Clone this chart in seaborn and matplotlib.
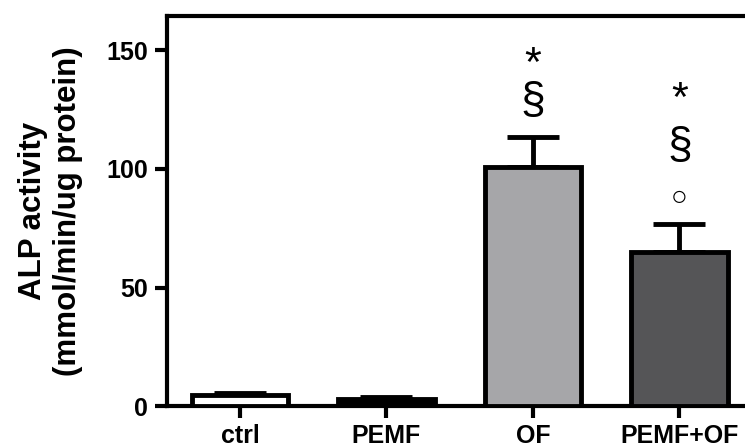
import numpy as np
import pandas as pd
import matplotlib
matplotlib.use("Agg")
import matplotlib.pyplot as plt
import seaborn as sns

# ---- data ----
categories = ["ctrl", "PEMF", "OF", "PEMF+OF"]
alp_mean = [4.9, 3.1, 100.6, 64.8]
alp_sem = [0.9, 1.0, 13.0, 11.9]
bar_colors = ["#ffffff", "#000000", "#a6a5aa", "#555557"]

# significance marks: (category, symbol, y value of symbol centre)
star_cats = ["OF", "PEMF+OF"]
star_y = [147.3, 132.6]
sect_cats = ["OF", "PEMF+OF"]
sect_y = [128.3, 109.4]
circ_cats = ["PEMF+OF"]
circ_y = [87.9]

y_ticks = [0, 50, 100, 150]
y_label = "ALP activity\n(mmol/min/ug protein)"

# ---- style ----
sns.set_theme(style="ticks")
plt.rcParams["font.family"] = ["Liberation Sans", "DejaVu Sans"]
plt.rcParams["text.color"] = "black"
plt.rcParams["axes.labelcolor"] = "black"
plt.rcParams["xtick.color"] = "black"
plt.rcParams["ytick.color"] = "black"

fig = plt.figure(figsize=(7.45, 4.44), dpi=100)
ax = fig.add_axes([0.2238, 0.0849, 0.7866, 0.879])

df = pd.DataFrame({"group": categories, "alp": alp_mean})
sns.barplot(data=df, x="group", y="alp", hue="group", palette=bar_colors,
            order=categories, hue_order=categories, legend=False,
            width=0.66, edgecolor="black", linewidth=3.5, errorbar=None,
            ax=ax, zorder=3)

pos = np.arange(len(categories))
ax.errorbar(pos, alp_mean, yerr=[np.zeros(len(alp_sem)), alp_sem], fmt="none",
            ecolor="black", elinewidth=3.5, capsize=19, capthick=3.5, zorder=2)

idx = {c: i for i, c in enumerate(categories)}
for c, y in zip(star_cats, star_y):
    ax.annotate("*", xy=(idx[c], y), xytext=(0, -6), textcoords="offset points",
                ha="center", va="center", fontsize=31, color="black")
for c, y in zip(sect_cats, sect_y):
    ax.text(idx[c], y, "§", ha="center", va="center", fontsize=32, color="black")
for c, y in zip(circ_cats, circ_y):
    ax.text(idx[c], y, "○", ha="center", va="center", fontsize=20, color="black")

ax.set_xlim(-0.5, 3.5)
ax.set_ylim(0, 164.4)
ax.set_yticks(y_ticks)
ax.set_yticklabels([str(t) for t in y_ticks])
ax.set_xlabel("")
ax.set_ylabel(y_label, fontsize=22.5, fontweight="bold", linespacing=1.2,
              color="black")
ax.yaxis.set_label_coords(-0.143, 0.5)

for s in ["left", "bottom", "top"]:
    ax.spines[s].set_linewidth(3)
    ax.spines[s].set_color("black")
    ax.spines[s].set_visible(True)
ax.spines["right"].set_visible(False)

ax.tick_params(axis="y", direction="out", length=8.5, width=3, pad=5,
               labelsize=18, colors="black")
ax.tick_params(axis="x", direction="out", length=8.5, width=3, pad=4,
               labelsize=18, colors="black")
for lab in ax.get_xticklabels() + ax.get_yticklabels():
    lab.set_fontweight("bold")

fig.savefig("out.png", dpi=100)
